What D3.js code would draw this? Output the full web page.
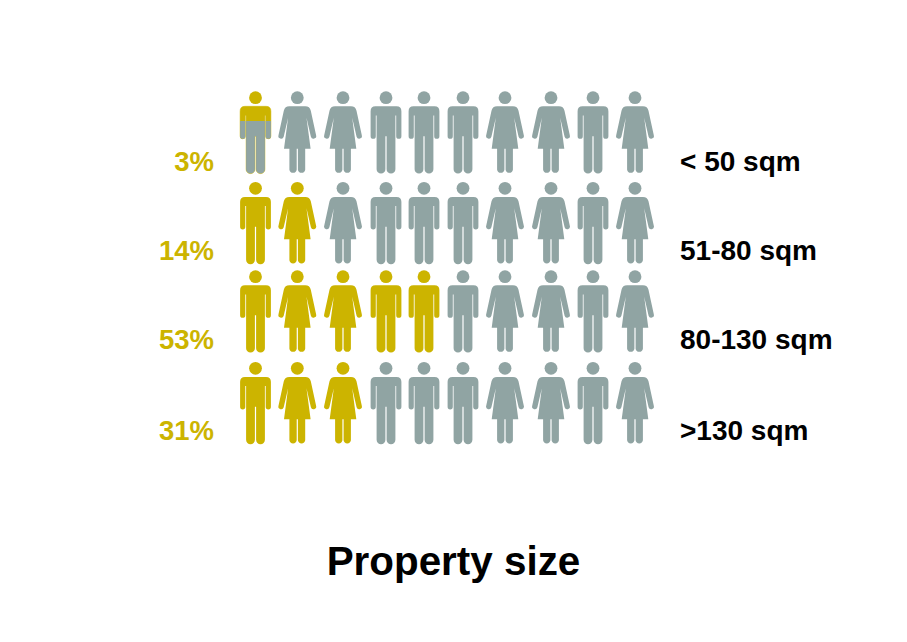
<!DOCTYPE html>
<html><head><meta charset="utf-8">
<script src="https://cdn.jsdelivr.net/npm/d3@7"></script>
<style>html,body{margin:0;padding:0;background:#fff}svg{display:block}text{font-family:"Liberation Sans",Arial,sans-serif;font-weight:700}</style>
</head><body><div id="chart"></div>
<script>
const categories = ["< 50 sqm","51-80 sqm","80-130 sqm",">130 sqm"];
const percentLabels = ["3%","14%","53%","31%"];
const filledIcons = [0.36,2,5,3];
const figures = ["m","f","f","m","m","m","f","f","m","f"];
const title = "Property size";

const W=907,H=642, GOLD="#ccb400", GREY="#90a4a3";
const svg=d3.select("#chart").append("svg").attr("width",W).attr("height",H);
const columns=d3.range(figures.length);
const x=d3.scaleOrdinal().domain(columns).range([255.5,297.3,343,386,424,463,505,551,593,635]);
const y=d3.scaleOrdinal().domain(categories).range([97.7,188.3,276.7,368.3]);
const labelY=d3.scaleOrdinal().domain(categories).range([171,260,349,440]);
const ICON_H=76+6.3; const ICON_TOP=-6.3;

const man="M-10.5,8.6 H10.5 Q15.4,8.6 15.4,13.5 V38.5 A2.6,2.6 0 0 1 10.2,38.5 V17.8 H9.4 V71.5 A4.3,4.3 0 0 1 0.6,71.5 V38.5 H-0.6 V71.5 A4.3,4.3 0 0 1 -9.4,71.5 V17.8 H-10.2 V38.5 A2.6,2.6 0 0 1 -15.4,38.5 V13.5 Q-15.4,8.6 -10.5,8.6 Z";
const woman="M-8,8.6 H8 Q12.4,8.6 13.5,13 L18.8,37.5 A2.7,2.7 0 0 1 13.6,39 L9.2,20 L13.3,51 H7.9 V72 A3.7,3.7 0 0 1 0.6,72 V51 H-0.6 V72 A3.7,3.7 0 0 1 -7.9,72 V51 H-13.3 L-9.2,20 L-13.6,39 A2.7,2.7 0 0 1 -18.8,37.5 L-13.5,13 Q-12.4,8.6 -8,8.6 Z";
function drawIcon(g,kind,color){
  g.append("circle").attr("r",6.4).attr("fill",color);
  g.append("path").attr("d",kind==="m"?man:woman).attr("fill",color);
}
const defs=svg.append("defs");
categories.forEach((c,ri)=>{
  const row=svg.append("g").attr("class","row").attr("transform",`translate(0,${y(c)})`);
  columns.forEach(ci=>{
    const g=row.append("g").attr("class","figure").attr("transform",`translate(${x(ci)},0)`);
    const share=Math.max(0,Math.min(1,filledIcons[ri]-ci));
    if(share>=1){drawIcon(g,figures[ci],GOLD);return;}
    if(share<=0){drawIcon(g,figures[ci],GREY);return;}
    drawIcon(g,figures[ci],GOLD);
    g.select("path").attr("stroke",GOLD).attr("stroke-width",0.5);
    const id=`clip-${ri}-${ci}`;
    defs.append("clipPath").attr("id",id).append("rect")
      .attr("x",-25).attr("width",50)
      .attr("y",ICON_TOP+ICON_H*share).attr("height",ICON_H*(1-share)+2);
    const over=g.append("g").attr("clip-path",`url(#${id})`);
    drawIcon(over,figures[ci],GREY);
  });
  svg.append("text").attr("x",214).attr("y",labelY(c)).attr("text-anchor","end")
    .attr("font-size",27.5).attr("fill",GOLD).text(percentLabels[ri]);
  svg.append("text").attr("x",680).attr("y",labelY(c)).attr("font-size",28)
    .attr("fill","#000").text(c);
});
svg.append("text").attr("x",453.5).attr("y",575).attr("text-anchor","middle")
  .attr("font-size",40.4).attr("fill","#000").text(title);
</script></body></html>
